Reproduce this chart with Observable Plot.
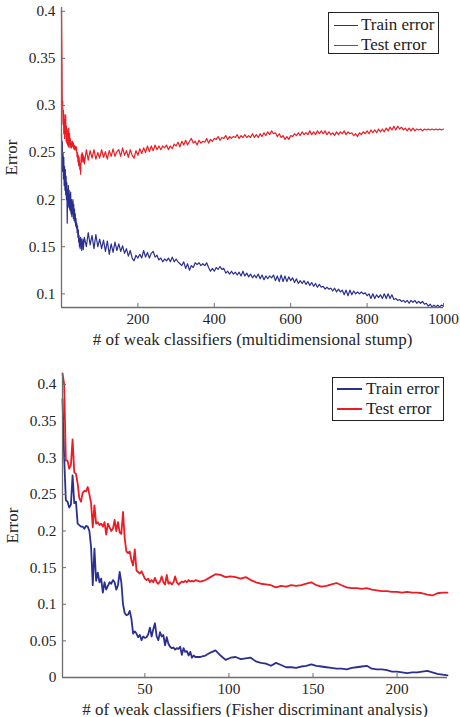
<!DOCTYPE html>
<html>
<head>
<meta charset="utf-8">
<script src="https://cdn.jsdelivr.net/npm/d3@7"></script>
<script src="https://cdn.jsdelivr.net/npm/@observablehq/plot@0.6"></script>
<style>
  body { margin: 0; background: #fff; }
  #wrap { position: relative; width: 460px; height: 717px; font-family: "Liberation Serif", serif; }
  #wrap svg { display: block; overflow: visible; }
  .legend { position: absolute; border: 1px solid #222; background: #fff; color: #222; font-size: 17px; box-sizing: border-box; }
  .row { position: absolute; left: 0; height: 20px; line-height: 20px; white-space: nowrap; }
  .sw { display: inline-block; vertical-align: middle; height: 0; }
  .lbl { display: inline-block; vertical-align: middle; }
</style>
</head>
<body>
<div id="wrap"></div>
<script>
// ---------- data ----------
const seriesNames = ["Train error", "Test error"];
const seriesColors = ["#2b2f8f", "#ed1c24"];

// Top panel: multidimensional stump (x = number of weak classifiers)
const topX = d3.range(0, 60).concat(d3.range(60, 1001, 5));
const topTrain = [
  0.27,0.24,0.262,0.23,0.25,0.222,0.245,0.215,0.235,0.21,
  0.232,0.205,0.225,0.2,0.218,0.175,0.21,0.195,0.215,0.192,
  0.21,0.19,0.205,0.188,0.208,0.185,0.2,0.182,0.198,0.185,
  0.2,0.18,0.195,0.178,0.19,0.176,0.185,0.172,0.18,0.17,
  0.175,0.165,0.172,0.16,0.168,0.155,0.162,0.15,0.158,0.148,
  0.16,0.152,0.158,0.146,0.155,0.15,0.158,0.147,0.152,0.156,
  0.16,0.15,0.165,0.152,0.162,0.148,0.163,0.15,0.158,
  0.148,0.157,0.145,0.156,0.142,0.153,0.144,0.155,0.146,0.153,
  0.145,0.151,0.143,0.148,0.14,0.146,0.138,0.135,0.141,0.138,
  0.142,0.138,0.146,0.139,0.144,0.138,0.143,0.145,0.139,0.141,
  0.136,0.138,0.134,0.137,0.135,0.138,0.134,0.139,0.134,0.137,
  0.134,0.132,0.13,0.134,0.127,0.132,0.125,0.13,0.128,0.133,
  0.131,0.133,0.13,0.132,0.13,0.133,0.128,0.124,0.127,0.124,
  0.128,0.126,0.129,0.126,0.127,0.122,0.124,0.121,0.124,0.121,
  0.123,0.12,0.123,0.119,0.124,0.119,0.122,0.118,0.121,0.117,
  0.12,0.117,0.121,0.116,0.12,0.115,0.119,0.116,0.119,0.117,
  0.12,0.114,0.119,0.113,0.12,0.113,0.119,0.113,0.118,0.114,
  0.117,0.112,0.116,0.111,0.114,0.111,0.114,0.11,0.113,0.109,
  0.112,0.108,0.111,0.107,0.11,0.107,0.108,0.105,0.107,0.105,
  0.106,0.103,0.106,0.102,0.105,0.102,0.104,0.099,0.104,0.098,
  0.104,0.099,0.103,0.1,0.102,0.1,0.102,0.1,0.101,0.098,
  0.1,0.095,0.1,0.095,0.099,0.096,0.099,0.095,0.1,0.095,
  0.1,0.095,0.099,0.094,0.095,0.093,0.094,0.092,0.093,0.091,
  0.093,0.09,0.093,0.091,0.093,0.09,0.092,0.09,0.092,0.089,
  0.09,0.087,0.089,0.086,0.088,0.086,0.088,0.086,0.088,0.087
];
const topTest = [
  0.40,0.36,0.30,0.305,0.28,0.295,0.27,0.29,0.265,0.285,
  0.27,0.29,0.262,0.278,0.26,0.275,0.258,0.272,0.256,0.276,
  0.258,0.27,0.255,0.265,0.257,0.262,0.255,0.26,0.257,0.262,
  0.256,0.26,0.254,0.258,0.253,0.257,0.254,0.256,0.252,0.256,
  0.25,0.245,0.25,0.24,0.247,0.236,0.245,0.24,0.232,0.238,
  0.227,0.24,0.248,0.24,0.25,0.242,0.248,0.24,0.246,0.243,
  0.238,0.253,0.242,0.252,0.244,0.253,0.243,0.25,0.244,
  0.253,0.245,0.251,0.243,0.252,0.246,0.254,0.246,0.251,0.253,
  0.246,0.255,0.247,0.252,0.245,0.253,0.247,0.244,0.252,0.247,
  0.254,0.249,0.255,0.25,0.257,0.251,0.257,0.252,0.258,0.253,
  0.257,0.253,0.257,0.255,0.258,0.253,0.257,0.254,0.259,0.257,
  0.261,0.256,0.262,0.258,0.263,0.258,0.262,0.265,0.26,0.262,
  0.258,0.263,0.26,0.262,0.261,0.265,0.26,0.264,0.262,0.265,
  0.264,0.267,0.263,0.266,0.265,0.268,0.264,0.267,0.265,0.267,
  0.266,0.269,0.265,0.268,0.266,0.269,0.266,0.268,0.266,0.27,
  0.266,0.269,0.266,0.27,0.267,0.271,0.268,0.272,0.269,0.273,
  0.27,0.271,0.267,0.27,0.266,0.268,0.264,0.267,0.264,0.268,
  0.267,0.27,0.268,0.271,0.268,0.272,0.269,0.271,0.269,0.273,
  0.269,0.272,0.269,0.273,0.27,0.273,0.27,0.273,0.269,0.272,
  0.269,0.271,0.268,0.272,0.269,0.272,0.27,0.273,0.269,0.272,
  0.27,0.271,0.268,0.27,0.267,0.271,0.269,0.272,0.27,0.273,
  0.27,0.274,0.271,0.274,0.271,0.275,0.272,0.275,0.272,0.276,
  0.273,0.277,0.274,0.278,0.274,0.278,0.275,0.277,0.274,0.276,
  0.273,0.276,0.273,0.276,0.273,0.275,0.274,0.275,0.273,0.275,
  0.274,0.275,0.274,0.275,0.274,0.275,0.274,0.275,0.274,0.275
];
const topXTicks = [200, 400, 600, 800, 1000];
const topYTicks = [0.1, 0.15, 0.2, 0.25, 0.3, 0.35, 0.4];
const topXLabel = "# of weak classifiers (multidimensional stump)";

// Bottom panel: Fisher discriminant analysis
const botX = d3.range(1, 81).concat(d3.range(83, 231, 3));
const botTrain = [
  0.38,0.30,0.242,0.24,0.232,0.236,0.276,0.238,0.24,0.21,
  0.208,0.206,0.206,0.203,0.207,0.206,0.2,0.178,0.126,0.176,
  0.132,0.143,0.13,0.135,0.116,0.13,0.12,0.125,0.13,0.128,
  0.133,0.13,0.12,0.126,0.144,0.13,0.1,0.088,0.085,0.086,
  0.091,0.08,0.06,0.063,0.06,0.055,0.058,0.051,0.056,0.054,
  0.055,0.059,0.068,0.056,0.066,0.074,0.056,0.051,0.062,0.056,
  0.058,0.044,0.055,0.046,0.042,0.04,0.041,0.038,0.04,0.039,
  0.042,0.031,0.04,0.035,0.036,0.03,0.035,0.027,0.03,0.028,
  0.028,0.03,0.034,0.037,0.03,0.024,0.027,0.028,0.025,0.026,
  0.027,0.022,0.02,0.019,0.016,0.02,0.017,0.014,0.014,0.013,
  0.015,0.016,0.018,0.016,0.015,0.014,0.013,0.012,0.012,0.011,
  0.013,0.014,0.015,0.016,0.012,0.011,0.011,0.01,0.008,0.008,
  0.007,0.006,0.007,0.007,0.008,0.009,0.007,0.005,0.004,0.003
];
const botTest = [
  0.415,0.40,0.296,0.296,0.285,0.29,0.325,0.28,0.278,0.265,
  0.245,0.24,0.252,0.255,0.254,0.26,0.25,0.238,0.205,0.235,
  0.21,0.212,0.208,0.21,0.206,0.212,0.195,0.21,0.205,0.2,
  0.203,0.215,0.2,0.212,0.198,0.196,0.226,0.19,0.172,0.17,
  0.172,0.16,0.153,0.175,0.146,0.144,0.142,0.145,0.14,0.135,
  0.133,0.135,0.13,0.133,0.13,0.136,0.13,0.128,0.131,0.138,
  0.13,0.127,0.14,0.128,0.13,0.127,0.13,0.138,0.13,0.127,
  0.129,0.131,0.13,0.132,0.13,0.133,0.131,0.132,0.131,0.133,
  0.131,0.133,0.137,0.141,0.14,0.137,0.138,0.137,0.135,0.137,
  0.133,0.13,0.128,0.127,0.126,0.123,0.125,0.124,0.126,0.125,
  0.126,0.128,0.13,0.126,0.124,0.125,0.127,0.129,0.126,0.123,
  0.122,0.122,0.121,0.122,0.12,0.119,0.118,0.118,0.117,0.117,
  0.116,0.117,0.116,0.116,0.115,0.113,0.112,0.115,0.116,0.116
];
const botXTicks = [50, 100, 150, 200];
const botYTicks = [0, 0.05, 0.1, 0.15, 0.2, 0.25, 0.3, 0.35, 0.4];
const botXLabel = "# of weak classifiers (Fisher discriminant analysis)";
const yLabel = "Error";

// ---------- build ----------
function rows(xs, train, test) {
  const out = [];
  xs.forEach((x, i) => out.push({x, v: train[i], s: seriesNames[0]}));
  xs.forEach((x, i) => out.push({x, v: test[i], s: seriesNames[1]}));
  return out;
}
const axisColor = "#6e6e6e";
const textColor = "#262626";
const font = "Liberation Serif";

function panel({data, width, height, mt, mr, mb, ml, xDomain, yDomain, xTicks, yTicks, xLabel, sw}) {
  const svg = Plot.plot({
    width, height,
    marginTop: mt, marginRight: mr, marginBottom: mb, marginLeft: ml,
    style: {fontFamily: font, fontSize: "15.3px", color: textColor, background: "transparent", overflow: "visible"},
    x: {domain: xDomain},
    y: {domain: yDomain},
    color: {domain: seriesNames, range: seriesColors},
    marks: [
      Plot.line(data, {x: "x", y: "v", z: "s", stroke: "s", strokeWidth: sw, strokeLinejoin: "round"}),
      Plot.ruleX([xDomain[0]], {stroke: axisColor, strokeWidth: 1.3}),
      Plot.ruleY([yDomain[0]], {stroke: axisColor, strokeWidth: 1.3}),
      Plot.axisX(xTicks, {tickSize: -4, tickPadding: 10, stroke: axisColor, fill: textColor,
        tickFormat: d => String(d),
        label: xLabel, labelAnchor: "center", labelArrow: "none", labelOffset: 37}),
      Plot.axisY(yTicks, {tickSize: -4, tickPadding: 10, stroke: axisColor, fill: textColor,
        tickFormat: d => String(d),
        label: yLabel, labelAnchor: "center", labelArrow: "none", labelOffset: 57})
    ]
  });
  svg.querySelectorAll("g[aria-label$='-axis label']").forEach(g => g.setAttribute("font-size", 17));
  return svg;
}

const wrap = document.getElementById("wrap");
wrap.append(panel({
  data: rows(topX, topTrain, topTest), width: 460, height: 355,
  mt: 7, mr: 17, mb: 48, ml: 61,
  xDomain: [0, 1000], yDomain: [0.0855, 0.404],
  xTicks: topXTicks, yTicks: topYTicks, xLabel: topXLabel, sw: 1.2
}));
wrap.append(panel({
  data: rows(botX, botTrain, botTest), width: 460, height: 362,
  mt: 18, mr: 13, mb: 40, ml: 62,
  xDomain: [1, 230], yDomain: [0, 0.415],
  xTicks: botXTicks, yTicks: botYTicks, xLabel: botXLabel, sw: 1.8
}));

function legend({left, top, width, height, rowTops, lineLeft, lineW, gap, lw}) {
  const box = document.createElement("div");
  box.className = "legend";
  Object.assign(box.style, {left: left + "px", top: top + "px", width: width + "px", height: height + "px"});
  seriesNames.forEach((name, i) => {
    const row = document.createElement("div");
    row.className = "row";
    row.style.top = rowTops[i] + "px";
    row.style.left = lineLeft + "px";
    const sw = document.createElement("span");
    sw.className = "sw";
    Object.assign(sw.style, {width: lineW + "px", borderTop: lw + "px solid " + seriesColors[i], marginRight: gap + "px"});
    const t = document.createElement("span");
    t.className = "lbl";
    t.textContent = name;
    row.append(sw, t);
    box.append(row);
  });
  wrap.append(box);
}
legend({left: 328, top: 12, width: 111, height: 42, rowTops: [1, 21], lineLeft: 5, lineW: 24, gap: 3, lw: 1});
legend({left: 332, top: 377, width: 112, height: 44, rowTops: [0, 20], lineLeft: 4, lineW: 25, gap: 4, lw: 2});
</script>
</body>
</html>
